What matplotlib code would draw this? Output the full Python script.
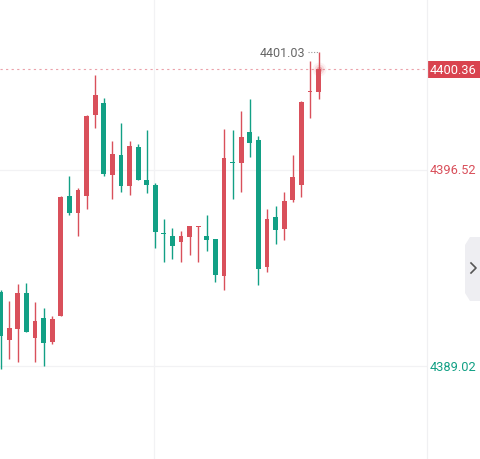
import matplotlib
matplotlib.use('Agg')
import matplotlib.pyplot as plt
from matplotlib.patches import FancyBboxPatch, Polygon
import numpy as np

# OHLC (one candle per bar, oldest first)
opens = [4391.87, 4390.04, 4390.45, 4391.82, 4390.10, 4390.87, 4389.96, 4390.95,
         4395.54, 4394.88, 4395.54, 4398.62, 4399.08, 4396.33, 4397.09, 4395.92,
         4397.41, 4396.14, 4395.96, 4394.09, 4393.99, 4393.78, 4393.97, 4394.35,
         4393.99, 4393.88, 4392.48, 4396.79, 4396.79, 4397.96, 4397.67, 4392.80,
         4394.71, 4394.27, 4395.36, 4395.96, 4399.48, 4399.49]
highs = [4391.95, 4391.53, 4392.17, 4392.20, 4391.49, 4391.25, 4390.94, 4395.52,
         4396.30, 4395.82, 4398.62, 4400.16, 4399.26, 4397.64, 4398.32, 4397.64,
         4397.51, 4398.06, 4396.02, 4394.65, 4394.30, 4394.18, 4394.39, 4394.38,
         4394.80, 4393.88, 4398.09, 4398.06, 4398.79, 4399.23, 4397.81, 4395.03,
         4395.15, 4395.67, 4397.09, 4399.17, 4400.67, 4401.03]
lows = [4388.92, 4389.30, 4389.20, 4390.34, 4389.20, 4389.02, 4389.89, 4390.93,
        4394.81, 4393.99, 4395.03, 4398.12, 4396.30, 4395.41, 4395.69, 4395.58,
        4396.15, 4395.65, 4393.54, 4393.02, 4393.12, 4393.02, 4393.28, 4392.99,
        4393.44, 4392.23, 4391.95, 4395.42, 4395.68, 4397.01, 4392.13, 4392.64,
        4393.69, 4393.85, 4395.31, 4395.50, 4398.50, 4399.23]
closes = [4390.19, 4390.47, 4391.82, 4390.34, 4390.76, 4389.91, 4390.83, 4395.49,
          4394.88, 4395.77, 4398.59, 4399.38, 4396.37, 4397.13, 4395.92, 4397.45,
          4396.15, 4395.96, 4394.16, 4394.07, 4393.63, 4393.99, 4394.37, 4394.37,
          4393.86, 4392.52, 4396.98, 4396.77, 4397.78, 4397.55, 4392.74, 4394.65,
          4394.23, 4395.32, 4396.26, 4399.13, 4399.50, 4400.36]

axis_high = 4396.52
axis_low = 4389.02
last_price = 4400.36
max_price = 4401.03

RED = '#d9505b'
GREEN = '#12a085'

o = np.array(opens)
h = np.array(highs)
l = np.array(lows)
c = np.array(closes)
x = np.arange(len(o))
colors = [RED if cc >= oo else GREEN for oo, cc in zip(o, c)]

fig = plt.figure(figsize=(4.81, 4.60), dpi=100)
ax = fig.add_axes([0, 0, 427 / 481, 1])

# GRID
ax.axhline(axis_high, color='#f2f2f4', lw=0.9, zorder=0)
ax.axhline(axis_low, color='#f2f2f4', lw=0.9, zorder=0)
ax.axvline(17.85, color='#f2f2f4', lw=0.9, zorder=0)

# CANDLES
ax.vlines(x, l, h, colors=colors, lw=1.0, zorder=2)
body_bottom = np.minimum(o, c)
body_height = np.maximum(np.abs(c - o), 0.04)
ax.bar(x, body_height, bottom=body_bottom, width=0.56, color=colors, zorder=3, linewidth=0)

# last price line + glow
ax.axhline(last_price, color='#eba2aa', lw=0.8, ls=(0, (2, 3)), zorder=1)
for r, a in [(10, 0.07), (7, 0.14), (4, 0.35)]:
    ax.plot(x[-1], last_price, 'o', ms=r, color=RED, alpha=a, mec='none', zorder=4)

# max label
ax.plot([x[-1] - 1.2, x[-1]], [max_price, max_price], color='#999999', lw=0.8, ls=(0, (1, 1.5)), zorder=4)
ax.text(x[-1] - 1.55, max_price - 0.04, '4401.03', ha='right', va='center', fontsize=9,
        family='Roboto', color='#666666')

ax.set_xlim(-0.08, 49.63)
ax.set_ylim(4385.48, 4403.05)
ax.axis('off')

# PRICE AXIS (right)
fig.add_artist(plt.Line2D([427 / 481, 427 / 481], [0, 1], color='#f0f0f2', lw=0.9))

def fy(p):
    return (p - 4385.48) / (4403.05 - 4385.48)

fig.text(453 / 481, fy(axis_high), '4396.52', ha='center', va='center', fontsize=9.2,
         family='Roboto', color=RED)
fig.text(453 / 481, fy(axis_low), '4389.02', ha='center', va='center', fontsize=9.2,
         family='Roboto', color=GREEN)
box = FancyBboxPatch((427 / 481, fy(last_price) - 8.5 / 460), 54 / 481, 17 / 460,
                     boxstyle='square,pad=0', transform=fig.transFigure,
                     facecolor='#d9434f', edgecolor='none')
fig.add_artist(box)
fig.text(453 / 481, fy(last_price), '4400.36', ha='center', va='center', fontsize=9.2,
         family='Roboto', color='white')

# side button with chevron
px = matplotlib.transforms.Affine2D().scale(1 / 481, -1 / 460).translate(0, 1) + fig.transFigure
btn = Polygon([(481, 238), (470, 238), (465, 246), (465, 294), (470, 302), (481, 302)],
              closed=True, facecolor='#eeeef2', edgecolor='none')
btn.set_transform(px)
fig.add_artist(btn)
chev = plt.Line2D([471, 476, 471], [264, 269, 274], color='#555555', lw=1.2, transform=px)
fig.add_artist(chev)

fig.savefig('out.png', dpi=100)
